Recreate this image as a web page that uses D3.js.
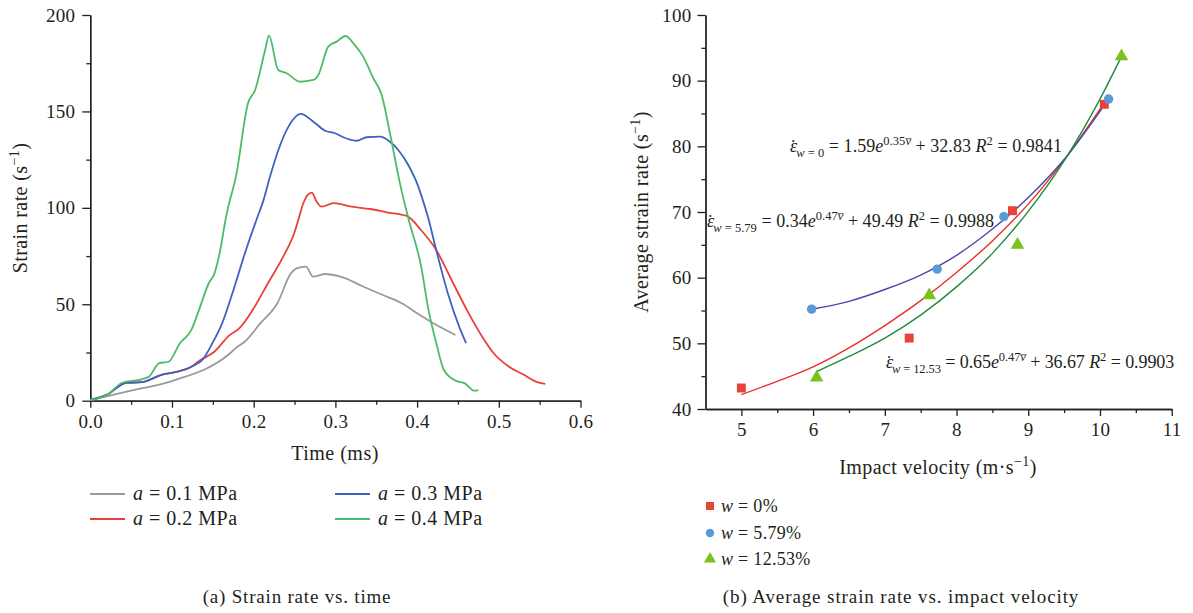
<!DOCTYPE html>
<html>
<head>
<meta charset="utf-8">
<script src="https://d3js.org/d3.v7.min.js"></script>
<style>
 body { margin:0; background:#ffffff; }
 svg text { font-family:"Liberation Serif", "Times New Roman", serif; fill:#231f20; }
 .axis path, .axis line { stroke:#231f20; stroke-width:1.3; }
 .axis text { font-size:19px; letter-spacing:0.3px; font-family:"Liberation Serif", serif; fill:#231f20; }
</style>
</head>
<body>
<script>

// ---- left panel: strain rate vs. time (ms, s^-1) ----
var leftNames = ["0.1", "0.2", "0.3", "0.4"];
var leftColors = ["#9a9a9a", "#e8403a", "#3d62c0", "#4dbb6a"];

var gray01 = [[0,0.5],[0.02,2.3],[0.05,5.2],[0.1,10.2],[0.17,24.2],[0.18,28],[0.189,30.6],[0.208,40.1],[0.229,50.5],
  [0.2455,66],[0.2525,68.6],[0.264,69.5],[0.2726,64.3],[0.2876,65.7],[0.3064,64.3],[0.3345,59.1],[0.3579,54.8],
  [0.3813,50.5],[0.40,45.3],[0.4188,40.4],[0.447,34.1]];
var red02 = [[0,0.3],[0.02,3],[0.044,9.3],[0.063,9.6],[0.0862,13.3],[0.105,14.9],[0.1237,17.6],[0.133,20.6],
  [0.1518,25.4],[0.1705,34],[0.1823,37.5],[0.1987,47],[0.2174,60.9],[0.2361,74.7],[0.2502,87.6],[0.2546,93.7],
  [0.2607,102.4],[0.271,107.9],[0.2771,103.2],[0.2832,100.6],[0.2974,102.4],[0.32,100.6],[0.3424,99.4],
  [0.3628,97.7],[0.3873,95.8],[0.4048,88.5],[0.4235,78.1],[0.4422,62.6],[0.461,47],[0.4797,33.2],[0.4937,24.6],
  [0.5125,17.6],[0.5312,13.3],[0.5453,9.9],[0.557,8.7]];
var blue03 = [[0,0.3],[0.02,3],[0.044,9.3],[0.063,9.6],[0.0862,13.3],[0.105,14.9],[0.1237,17.6],[0.1377,21.4],
  [0.1494,29.8],[0.1612,40],[0.1752,57.4],[0.1892,76.4],[0.2033,93.7],[0.212,104],[0.22,116.2],[0.2302,130],
  [0.2424,142],[0.2575,148.7],[0.273,144.7],[0.2873,140],[0.2995,138.7],[0.3097,136.6],[0.326,134.8],
  [0.3383,136.6],[0.3546,136.9],[0.3668,134.3],[0.377,130],[0.3892,122.2],[0.4015,111],[0.407,104],
  [0.4137,94.6],[0.4235,78],[0.4376,55.7],[0.4515,38.4],[0.46,29.8]];
var green04 = [[0,0.3],[0.0207,3.0],[0.039,9.3],[0.063,11.1],[0.072,12.5],[0.084,19.4],[0.0956,20.2],[0.1097,29.8],
  [0.1237,36.7],[0.133,47],[0.145,60.9],[0.152,66],[0.159,78],[0.166,95],[0.179,117.9],[0.193,154.2],[0.2016,161],
  [0.214,181.8],[0.2187,189.3],[0.230,171.5],[0.2404,169.8],[0.2567,165.4],[0.273,166.3],[0.279,168.9],
  [0.2913,183.6],[0.3016,186.2],[0.3126,189.1],[0.322,185.3],[0.334,178.4],[0.3464,167.2],[0.3567,158.5],
  [0.3668,138.7],[0.379,112.7],[0.389,95],[0.405,69.5],[0.414,47],[0.4235,29.8],[0.4328,15.9],[0.447,10.4],
  [0.4586,9],[0.470,5.2],[0.475,5.5]];
var leftSeries = [gray01, red02, blue03, green04];
var leftXTicks = [0, 0.1, 0.2, 0.3, 0.4, 0.5, 0.6];
var leftYTicks = [0, 50, 100, 150, 200];

// ---- right panel: average strain rate vs. impact velocity ----
var rightNames = ["0%", "5.79%", "12.53%"];
var markerColors = ["#e8433a", "#5b9bd5", "#7cc21c"];
var fitColors = ["#e8302a", "#4848aa", "#1e8c3c"];
var ptsW0 = [[5.0,43.2],[7.34,50.8],[8.78,70.2],[10.06,86.4]];
var ptsW579 = [[5.98,55.2],[7.73,61.3],[8.66,69.3],[10.12,87.2]];
var ptsW1253 = [[6.05,44.8],[7.62,57.3],[8.85,65.0],[10.30,93.7]];
// fitted curves
var fitW0 = [[5.0,42.2],[5.5,44.2],[6.0,46.4],[6.5,49.3],[7.0,52.7],[7.5,56.5],[8.0,60.8],[8.5,65.6],[9.0,71.2],[9.5,77.9],[10.06,86.6]];
var fitW579 = [[5.98,55.2],[6.5,56.4],[7.0,58.2],[7.5,60.4],[8.0,63.4],[8.5,67.4],[9.0,72.2],[9.5,78.0],[10.12,87.2]];
var fitW1253 = [[6.05,45.7],[6.5,48.0],[7.0,50.8],[7.5,54.3],[8.0,58.6],[8.5,63.7],[9.0,70.1],[9.5,77.8],[10.0,87.2],[10.30,93.7]];
var rightPts = [ptsW0, ptsW579, ptsW1253];
var rightFits = [fitW0, fitW579, fitW1253];
var rightXTicks = [5, 6, 7, 8, 9, 10, 11];
var rightYTicks = [40, 50, 60, 70, 80, 90, 100];

var svg = d3.select("body").append("svg")
    .attr("width", 1193).attr("height", 613);

// small helper for "(s^-1)" style labels
function withInverse(t, before, after, size) {
  t.append("tspan").text(before);
  t.append("tspan").attr("dy", -8).style("font-size", (size - 6) + "px").text("\u22121");
  t.append("tspan").attr("dy", 8).text(after);
}

// ---------- left chart ----------
var xL = d3.scaleLinear().domain([0, 0.6]).range([90.3, 580.5]);
var yL = d3.scaleLinear().domain([0, 200]).range([400.7, 15]);

// minor ticks first, then major
svg.append("g").attr("class", "axis").attr("transform", "translate(0,400.7)")
   .call(d3.axisBottom(xL).tickValues(d3.range(0.05, 0.6, 0.1)).tickSize(4).tickSizeOuter(0).tickFormat(""));
svg.append("g").attr("class", "axis").attr("transform", "translate(0,400.7)")
   .call(d3.axisBottom(xL).tickValues(leftXTicks).tickSize(7).tickSizeOuter(0).tickPadding(7).tickFormat(d3.format(".1f")));
svg.append("g").attr("class", "axis").attr("transform", "translate(90.3,0)")
   .call(d3.axisLeft(yL).tickValues([25, 75, 125, 175]).tickSize(4).tickSizeOuter(0).tickFormat(""));
svg.append("g").attr("class", "axis").attr("transform", "translate(90.3,0)")
   .call(d3.axisLeft(yL).tickValues(leftYTicks).tickSize(8).tickSizeOuter(0).tickPadding(7));

var lineL = d3.line().x(function(d){ return xL(d[0]); }).y(function(d){ return yL(d[1]); })
   .curve(d3.curveMonotoneX);
leftSeries.forEach(function(s, i) {
  svg.append("path").datum(s)
     .attr("d", lineL)
     .attr("fill", "none")
     .attr("stroke", leftColors[i])
     .attr("stroke-width", 1.8)
     .attr("stroke-linejoin", "round");
});

svg.append("text").attr("x", 335).attr("y", 460).attr("text-anchor", "middle")
   .style("font-size", "20px").style("letter-spacing", "0.5px").text("Time (ms)");

var yl = svg.append("text").attr("transform", "translate(27,208) rotate(-90)")
   .attr("text-anchor", "middle").style("font-size", "20px").style("letter-spacing", "0.4px");
withInverse(yl, "Strain rate (s", ")", 20);

// left legend
var legL = [[90, 494], [90, 519], [335, 494], [335, 519]];
leftNames.forEach(function(n, i) {
  var p = legL[i];
  svg.append("line").attr("x1", p[0]).attr("x2", p[0] + 35).attr("y1", p[1]).attr("y2", p[1])
     .attr("stroke", leftColors[i]).attr("stroke-width", 1.8);
  var t = svg.append("text").attr("x", p[0] + 43).attr("y", p[1] + 6)
     .style("font-size", "20px").style("letter-spacing", "0.5px");
  t.append("tspan").style("font-style", "italic").text("a");
  t.append("tspan").text(" = " + n + " MPa");
});

svg.append("text").attr("x", 297).attr("y", 603).attr("text-anchor", "middle")
   .style("font-size", "19px").style("letter-spacing", "0.8px").text("(a) Strain rate vs. time");

// ---------- right chart ----------
var xR = d3.scaleLinear().domain([4.5, 11]).range([705.5, 1171.7]);
var yR = d3.scaleLinear().domain([40, 100]).range([409, 15]);

svg.append("g").attr("class", "axis").attr("transform", "translate(0,409)")
   .call(d3.axisBottom(xR).tickValues(d3.range(5.5, 11, 1)).tickSize(4).tickSizeOuter(0).tickFormat(""));
svg.append("g").attr("class", "axis").attr("transform", "translate(0,409)")
   .call(d3.axisBottom(xR).tickValues(rightXTicks).tickSize(7).tickSizeOuter(0).tickPadding(7).tickFormat(d3.format("d")));
svg.append("g").attr("class", "axis").attr("transform", "translate(705.5,0)")
   .call(d3.axisLeft(yR).tickValues(d3.range(45, 100, 10)).tickSize(4).tickSizeOuter(0).tickFormat(""));
svg.append("g").attr("class", "axis").attr("transform", "translate(705.5,0)")
   .call(d3.axisLeft(yR).tickValues(rightYTicks).tickSize(8).tickSizeOuter(0).tickPadding(6));

var lineR = d3.line().x(function(d){ return xR(d[0]); }).y(function(d){ return yR(d[1]); })
   .curve(d3.curveMonotoneX);
rightFits.forEach(function(s, i) {
  svg.append("path").datum(s).attr("d", lineR)
     .attr("fill", "none").attr("stroke", fitColors[i]).attr("stroke-width", 1.4);
});

var symbols = [d3.symbolSquare, d3.symbolCircle, d3.symbolTriangle];
var symSizes = [80, 70, 80];
rightPts.forEach(function(s, i) {
  svg.selectAll("path.m" + i).data(s).enter().append("path")
     .attr("class", "m" + i)
     .attr("d", d3.symbol().type(symbols[i]).size(symSizes[i]))
     .attr("transform", function(d){ return "translate(" + xR(d[0]) + "," + yR(d[1]) + ")"; })
     .attr("fill", markerColors[i]);
});

var xt = svg.append("text").attr("x", 938).attr("y", 474).attr("text-anchor", "middle")
   .style("font-size", "20px").style("letter-spacing", "0.4px");
withInverse(xt, "Impact velocity (m\u00b7s", ")", 20);

var yr = svg.append("text").attr("transform", "translate(648,212) rotate(-90)")
   .attr("text-anchor", "middle").style("font-size", "20px").style("letter-spacing", "0.4px");
withInverse(yr, "Average strain rate (s", ")", 20);

// fit equations: [text, italic, level] where level 0 normal, -1 subscript, 1 superscript
// width = span the equation takes in the reference, letter-spacing is tuned to it
function equation(x, y, width, parts) {
  var t = svg.append("text").attr("x", x).attr("y", y).style("font-size", "18px");
  // epsilon with a dot above it
  t.append("tspan").style("font-style", "italic").text("\u03b5");
  t.append("tspan").attr("dx", -7).attr("dy", 1).text("\u02d9");
  var cur = 1;
  parts.forEach(function(p) {
    var shift = { "0": 0, "-1": 5, "1": -7 }[p[2]];
    t.append("tspan")
     .attr("dy", shift - cur)
     .style("font-style", p[1] ? "italic" : "normal")
     .style("font-size", p[2] === 0 ? "18px" : "12.5px")
     .text(p[0]);
    cur = shift;
  });
  var w0 = t.node().getBBox().width;
  var n = t.text().length;
  t.style("letter-spacing", ((width - w0) / n) + "px");
}
var eqs = [
  [790, 152, 272, "w = 0", "1.59", "0.35", "32.83", "0.9841"],
  [707, 227, 287, "w = 5.79", "0.34", "0.47", "49.49", "0.9988"],
  [886, 368, 288, "w = 12.53", "0.65", "0.47", "36.67", "0.9903"]
];
eqs.forEach(function(e) {
  var sub = e[3].split(" = ");
  equation(e[0], e[1], e[2], [
    [sub[0], true, -1], [" = " + sub[1], false, -1],
    [" = " + e[4], false, 0], ["e", true, 0],
    [e[5], false, 1], ["v\u0305", true, 1],
    [" + " + e[6] + " ", false, 0], ["R", true, 0],
    ["2", false, 1],
    [" = " + e[7], false, 0]
  ]);
});

// right legend
var legR = [506, 533, 559];
rightNames.forEach(function(n, i) {
  svg.append("path")
     .attr("d", d3.symbol().type(symbols[i]).size(symSizes[i] * 0.8))
     .attr("transform", "translate(710," + legR[i] + ")")
     .attr("fill", markerColors[i]);
  var t = svg.append("text").attr("x", 721).attr("y", legR[i] + 6)
     .style("font-size", "18px").style("letter-spacing", "0.3px");
  t.append("tspan").style("font-style", "italic").text("w");
  t.append("tspan").text(" = " + n);
});

svg.append("text").attr("x", 901).attr("y", 603).attr("text-anchor", "middle")
   .style("font-size", "19px").style("letter-spacing", "0.9px").text("(b) Average strain rate vs. impact velocity");

</script>
</body>
</html>
